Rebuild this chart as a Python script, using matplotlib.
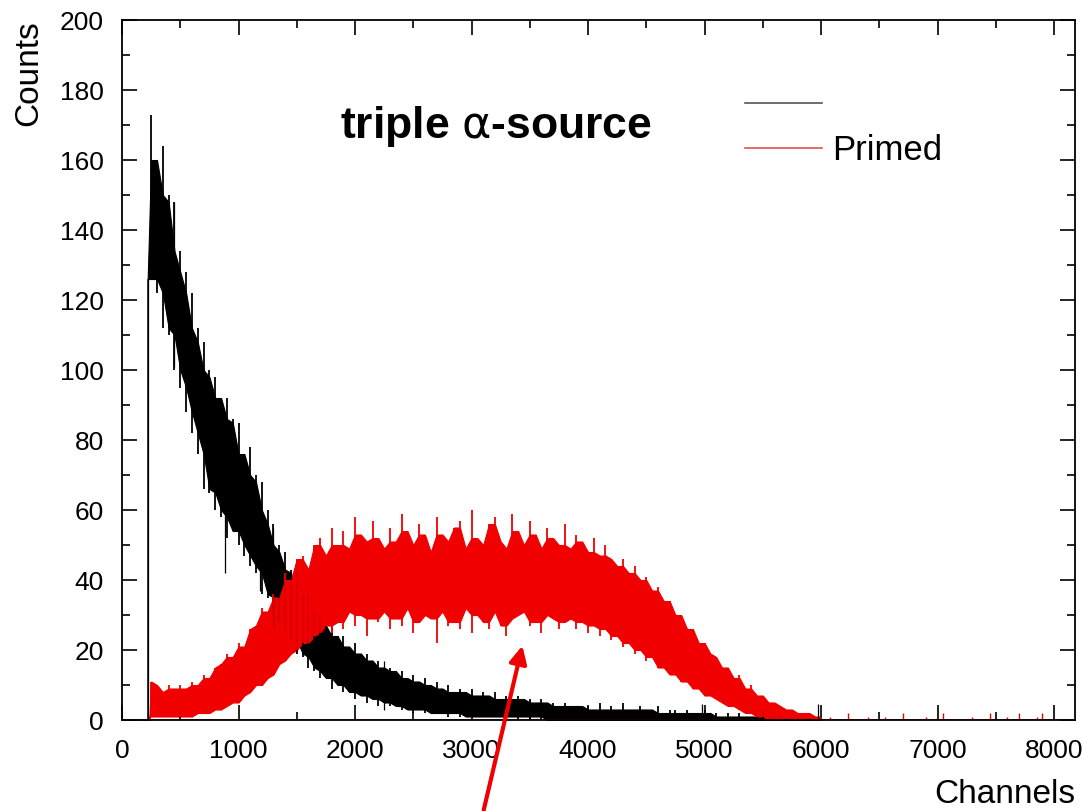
import numpy as np
import matplotlib.pyplot as plt
from matplotlib.lines import Line2D

plt.rcParams['font.family'] = ['Liberation Sans', 'DejaVu Sans']

# channel grid of the readings (every 50 channels)
grid = np.arange(250, 6001, 50)

# black spectrum: start channel, upper and lower edge of the noisy band
black_start = 220
black_hi = [173, 160, 164, 150, 148, 134, 128, 122, 112, 108, 100, 98, 92, 92, 86, 85,
            76, 78, 70, 68, 60, 56, 50, 48, 43, 42, 36, 36, 31, 30, 27, 27, 24, 24, 21, 22,
            19, 19, 17, 17, 15, 15, 14, 14, 12, 13, 11, 12, 10, 11, 9, 10, 8, 9, 8, 9,
            7, 8, 7, 8, 6, 7, 6, 7, 6, 6, 5, 6, 5, 5, 4, 5, 4, 4, 4, 4,
            3, 5, 3, 4, 3, 5, 3, 3, 4, 3, 3, 4, 2, 3, 3, 2, 3, 2, 2, 3,
            2, 2, 1, 2, 1, 2, 1, 1, 1, 1, 1, 1, 1, 1, 0.5, 1, 0.5, 0.5, 0.5, 0.5]
black_lo = [126, 122, 112, 110, 100, 95, 88, 82, 76, 66, 65, 60, 58, 52, 54, 50, 47, 44, 42, 36,
            35, 30, 28, 25, 23, 19, 18, 15, 14, 12, 12, 9, 10, 8, 8, 6, 7, 5, 6, 4,
            5, 4, 4, 3, 3, 2, 3, 2, 2, 2, 2, 1, 2, 1, 1, 1, 1, 1, 1, 1,
            1, 1, 1, 0, 1, 0, 1, 0, 0, 0, 0, 0, 0, 0, 0, 0] + [0] * 40
black_spike_ch = [450, 880, 1180, 1300, 2250, 4980, 5975]
black_spike_lo = [101, 42, 37, 27, 3, 0, 0]
black_spike_hi = [148, 70, 60, 55, 17, 4.5, 4.5]

# red (Primed) spectrum
red_start = 235
red_hi = [11, 10, 8, 10, 9, 10, 9, 11,
          10, 13, 12, 15, 16, 19, 18, 22,
          21, 26, 27, 32, 31, 36, 35, 42,
          40, 46, 47, 43, 50, 52, 47, 55,
          50, 54, 49, 58, 53, 51, 57, 52,
          49, 55, 51, 59, 54, 50, 56, 53,
          48, 58, 53, 51, 55, 57, 49, 60,
          52, 50, 56, 58, 51, 49, 59, 54,
          50, 57, 53, 49, 55, 52, 50, 56,
          49, 53, 51, 48, 52, 47, 50, 46,
          44, 46, 42, 44, 40, 41, 37, 38,
          34, 34, 30, 30, 26, 26, 22, 22,
          19, 18, 15, 15, 12, 13, 9, 10,
          7, 7, 5, 5, 4, 3, 3, 2,
          2, 2, 1, 1]
red_lo = [1, 1, 1, 1, 1, 1, 1, 1,
          2, 2, 2, 3, 3, 4, 5, 5,
          7, 8, 10, 10, 12, 13, 16, 17,
          19, 20, 22, 22, 24, 25, 27, 25,
          28, 26, 31, 27, 30, 24, 29, 28,
          31, 26, 29, 27, 32, 25, 28, 30,
          29, 22, 31, 27, 28, 26, 32, 25,
          30, 28, 26, 31, 27, 24, 29, 30,
          31, 27, 28, 25, 30, 29, 26, 28,
          29, 26, 28, 25, 27, 24, 26, 23,
          24, 21, 22, 19, 20, 17, 18, 15,
          15, 13, 13, 11, 11, 9, 9, 7,
          7, 6, 5, 4, 4, 3, 2, 2,
          1, 1, 0, 0, 0, 0, 0, 0,
          0, 0, 0, 0]
red_tail_ch = [6080, 6230, 6400, 6550, 6700, 6900, 7050, 7300, 7450, 7600, 7700, 7850, 7900]
red_tail_hi = [1, 2, 1, 1, 2, 1, 2, 1, 2, 1, 2, 1, 2]

x_ticks = [0, 1000, 2000, 3000, 4000, 5000, 6000, 7000, 8000]
y_ticks = [0, 20, 40, 60, 80, 100, 120, 140, 160, 180, 200]


def neighbours(v):
    p = np.pad(v, 1, mode='edge')
    return np.vstack([p[:-2], p[1:-1], p[2:]])


def draw_spectrum(ax, start, hi, lo, color, core='median'):
    hi = np.asarray(hi, float)
    lo = np.asarray(lo, float)
    # solid core of the band, the rest is drawn as thin spikes
    if core == 'median':
        core_top = np.minimum(hi, np.median(neighbours(hi), axis=0))
        core_bot = np.maximum(lo, np.median(neighbours(lo), axis=0))
    else:
        core_top = neighbours(hi).min(axis=0)
        core_bot = neighbours(lo).max(axis=0)
    core_bot = np.minimum(core_bot, core_top)
    ch = np.concatenate([[0, start, start], grid])
    top = np.concatenate([[0, 0, lo[0]], core_top])
    bot = np.concatenate([[0, 0, lo[0]], core_bot])
    ax.fill_between(ch, bot, top, color=color, lw=0.8, edgecolor=color)
    ax.vlines(grid, lo, hi, color=color, lw=1.3)
    ax.vlines(start, 0, lo[0], color=color, lw=0.9)


fig = plt.figure(figsize=(10.82, 8.11), dpi=100)
ax = fig.add_axes([0.1128, 0.1122, 0.8807, 0.8631])

draw_spectrum(ax, black_start, black_hi, black_lo, 'black', core='min')
ax.vlines(black_spike_ch, black_spike_lo, black_spike_hi, color='black', lw=0.9)

draw_spectrum(ax, red_start, red_hi, red_lo, '#f00000', core='median')
ax.vlines(red_tail_ch, 0, red_tail_hi, color='#f00000', lw=1)
ax.axhline(0, color='#f00000', lw=1.2)

ax.set_xlim(0, 8180)
ax.set_ylim(0, 200)
ax.set_xticks(x_ticks)
ax.set_yticks(y_ticks)
ax.set_xticks(np.arange(500, 8001, 1000), minor=True)
ax.set_yticks(np.arange(10, 200, 20), minor=True)
ax.tick_params(which='both', direction='in', top=True, right=True, labelsize=19, width=1.2)
ax.tick_params(which='major', length=11)
ax.tick_params(which='minor', length=6)
ax.tick_params(axis='x', which='major', pad=14)
ax.tick_params(axis='y', which='major', pad=13)
for s in ax.spines.values():
    s.set_linewidth(1.3)

ax.set_xlabel('Channels', fontsize=24, loc='right', labelpad=11)
ax.set_ylabel('Counts', fontsize=24, loc='top', labelpad=11)

ax.text(3210, 169.5, r'triple $\mathrm{\alpha}$-source', fontsize=32, fontweight='bold',
        ha='center', va='center')

handles = [Line2D([], [], color='#555555', lw=1.2), Line2D([], [], color='#e05050', lw=1.2)]
ax.legend(handles, [' ', 'Primed'], loc='upper left', bbox_to_anchor=(0.654, 0.901),
          frameon=False, fontsize=25, handlelength=2.2, handletextpad=0.3,
          labelspacing=0.33, borderpad=0, borderaxespad=0)

ax.annotate('', xy=(3442, 22), xytext=(3099, -26.5),
            arrowprops=dict(arrowstyle='-|>', color='#f00000', lw=3, mutation_scale=26),
            annotation_clip=False)

fig.savefig('out.png', dpi=100)
